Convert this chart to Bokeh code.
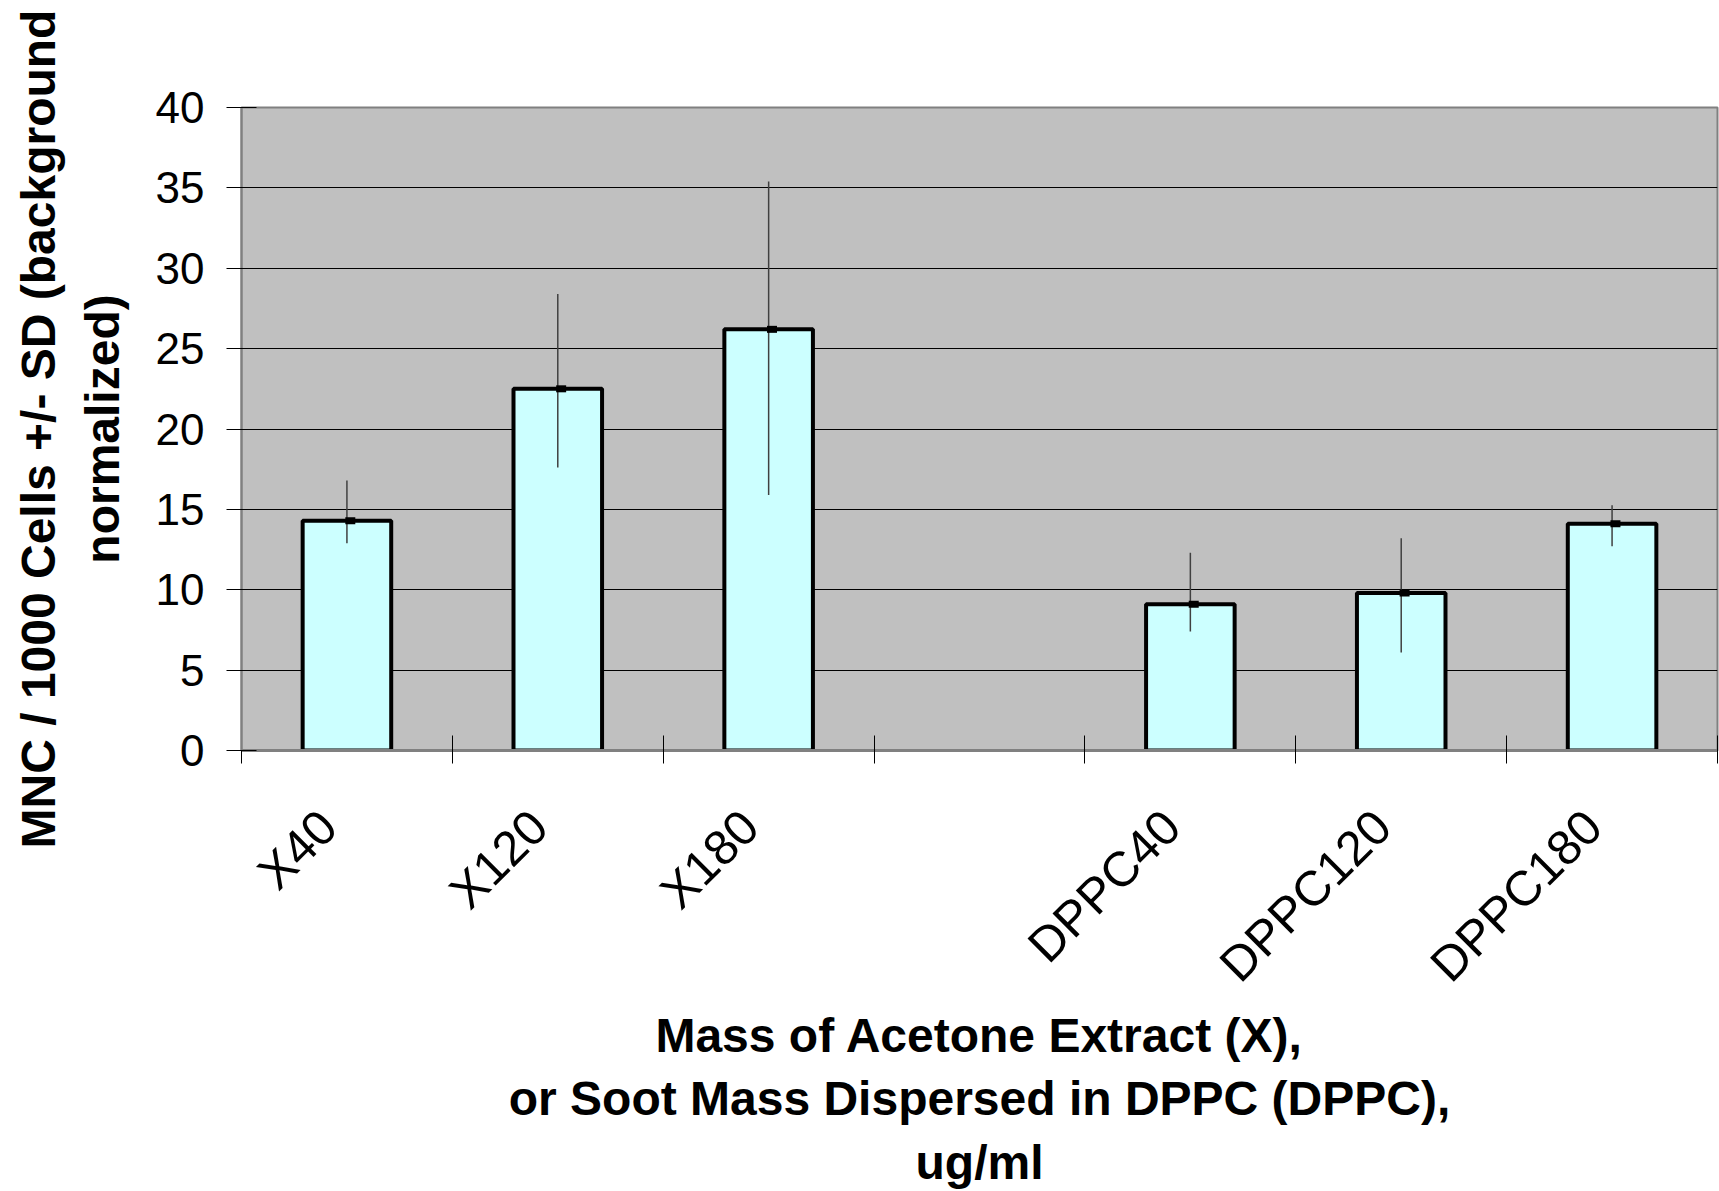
import math
from bokeh.plotting import figure
from bokeh.models import ColumnDataSource, FixedTicker, Range1d
from bokeh.transform import dodge
from bokeh.embed import file_html
from bokeh.resources import INLINE

# ---- data ----
slots = ["X40", "X120", "X180", "", "DPPC40", "DPPC120", "DPPC180"]
categories = ["X40", "X120", "X180", "DPPC40", "DPPC120", "DPPC180"]
means = [14.3, 22.5, 26.2, 9.1, 9.8, 14.1]
err_upper = [16.8, 28.4, 35.4, 12.3, 13.2, 15.25]
err_lower = [12.9, 17.6, 15.9, 7.4, 6.1, 12.7]
y_ticks = [0, 5, 10, 15, 20, 25, 30, 35, 40]

x_pos = [slots.index(c) + 0.5 for c in categories]
source = ColumnDataSource(dict(x=x_pos, cat=categories, mean=means,
                               up=err_upper, lo=err_lower))

FONT = "Liberation Sans"
LABEL_SHIFT = 0.09  # rotated labels end slightly left of the slot centre

p = figure(width=1719, height=1191, output_backend="svg", toolbar_location=None,
           x_range=Range1d(0, len(slots)), y_range=Range1d(0, 40),
           min_border_left=241, min_border_right=2, min_border_top=107,
           min_border_bottom=440)
p.background_fill_color = "#C0C0C0"
p.border_fill_color = "white"
p.outline_line_color = "#808080"
p.outline_line_width = 2

# grid
p.xgrid.grid_line_color = None
p.ygrid.grid_line_color = "black"
p.ygrid.grid_line_width = 1

# bars
p.vbar(x="x", top="mean", width=0.42, source=source, fill_color="#CCFFFF",
       line_color="black", line_width=4)
# error bars
p.segment(x0="x", y0="lo", x1="x", y1="up", source=source,
          line_color="#404040", line_width=1.5)
p.rect(x=dodge("x", 0.016, range=p.x_range), y="mean", width=10, height=7,
       width_units="screen", height_units="screen", source=source,
       fill_color="black", line_color=None)

# y axis
ya = p.yaxis[0]
ya.ticker = FixedTicker(ticks=y_ticks)
ya.axis_line_color = "#808080"
ya.axis_line_width = 2
ya.major_tick_in = 15
ya.major_tick_out = 15
ya.major_tick_line_color = "black"
ya.minor_tick_line_color = None
ya.major_label_text_font = FONT
ya.major_label_text_font_size = "44px"
ya.major_label_text_color = "black"
ya.major_label_standoff = 22
ya.axis_label = "MNC / 1000 Cells +/- SD (background\nnormalized)"
ya.axis_label_text_font = FONT
ya.axis_label_text_font_style = "bold"
ya.axis_label_text_font_size = "48px"
ya.axis_label_text_color = "black"
ya.axis_label_standoff = 24

# x axis
xa = p.xaxis[0]
bounds = list(range(len(slots) + 1))
label_pos = [x - LABEL_SHIFT for x in x_pos]
xa.ticker = FixedTicker(ticks=label_pos, minor_ticks=bounds)
xa.major_label_overrides = {float(x): c for x, c in zip(label_pos, categories)}
xa.axis_line_color = "#808080"
xa.axis_line_width = 3
xa.major_tick_line_color = None
xa.minor_tick_in = 15
xa.minor_tick_out = 13
xa.minor_tick_line_color = "black"
xa.minor_tick_line_width = 1
xa.major_label_orientation = math.pi / 4
xa.major_label_text_font = FONT
xa.major_label_text_font_size = "49px"
xa.major_label_text_color = "black"
xa.major_label_standoff = 55
xa.axis_label = ("Mass of Acetone Extract (X),\n"
                 "or Soot Mass Dispersed in DPPC (DPPC),\nug/ml")
xa.axis_label_text_font = FONT
xa.axis_label_text_font_style = "bold"
xa.axis_label_text_font_size = "48px"
xa.axis_label_text_color = "black"
xa.axis_label_standoff = -5

open("out.html", "w").write(file_html(p, INLINE))
